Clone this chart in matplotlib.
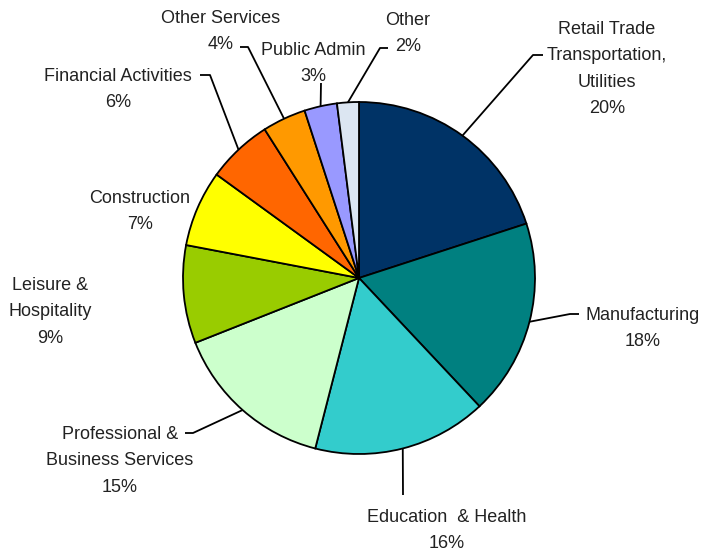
import numpy as np
import matplotlib
matplotlib.use("Agg")
import matplotlib.pyplot as plt

plt.rcParams['font.family'] = ['Liberation Sans Narrow', 'Liberation Sans', 'DejaVu Sans']

labels = ["Retail Trade\nTransportation,\nUtilities", "Manufacturing", "Education  & Health",
          "Professional &\nBusiness Services", "Leisure &\nHospitality", "Construction",
          "Financial Activities", "Other Services", "Public Admin", "Other"]
shares = [20, 18, 16, 15, 9, 7, 6, 4, 3, 2]
colors = ["#003366", "#008080", "#33CCCC", "#CCFFCC", "#99CC00", "#FFFF00",
          "#FF6600", "#FF9900", "#9999FF", "#DCE6F2"]

W, H = 702, 557
CX, CY, R = 359, 278, 176

# label layout in image pixels: text centre x, centre y of first line,
# leader elbow point (None = no leader), and end of the short horizontal tick
layout = [
    dict(tx=607, ty=28, elbow=(533, 55), tick=543),
    dict(tx=643, ty=314, elbow=(570, 314), tick=579),
    dict(tx=447, ty=516, elbow=(403, 495), tick=None),
    dict(tx=120, ty=433, elbow=(193, 433), tick=185),
    dict(tx=50, ty=284, elbow=None, tick=None),
    dict(tx=140, ty=197, elbow=None, tick=None),
    dict(tx=118, ty=75, elbow=(210, 75), tick=200),
    dict(tx=221, ty=17, elbow=(248, 47), tick=240),
    dict(tx=313, ty=49, elbow=(321, 83), tick=None),
    dict(tx=408, ty=19, elbow=(380, 48), tick=388),
]

fig = plt.figure(figsize=(W / 100, H / 100), dpi=100)
ax = fig.add_axes([0, 0, 1, 1])
ax.pie(shares, colors=colors, startangle=90, counterclock=False,
       center=(CX, H - CY), radius=R,
       wedgeprops=dict(edgecolor="black", linewidth=1.3))
ax.set_xlim(0, W)
ax.set_ylim(0, H)
ax.set_aspect("equal")
ax.axis("off")

total = sum(shares)
start = 0
for lab, val, lay in zip(labels, shares, layout):
    mid = 90 - (start + val / 2) / total * 360
    start += val
    ex = CX + R * np.cos(np.radians(mid))
    ey = CY - R * np.sin(np.radians(mid))
    txt = f"{lab}\n{val}%"
    if lay["elbow"] is not None:
        bx, by = lay["elbow"]
        xs = [ex, bx]
        ys = [ey, by]
        if lay["tick"] is not None:
            xs.append(lay["tick"])
            ys.append(by)
        ax.plot(xs, [H - y for y in ys], color="black", lw=1.3, solid_capstyle="butt")
    ax.text(lay["tx"], H - (lay["ty"] - 7), txt, ha="center", va="top", fontsize=13,
            linespacing=1.72, color="#222222")

fig.savefig("out.png", dpi=100)
